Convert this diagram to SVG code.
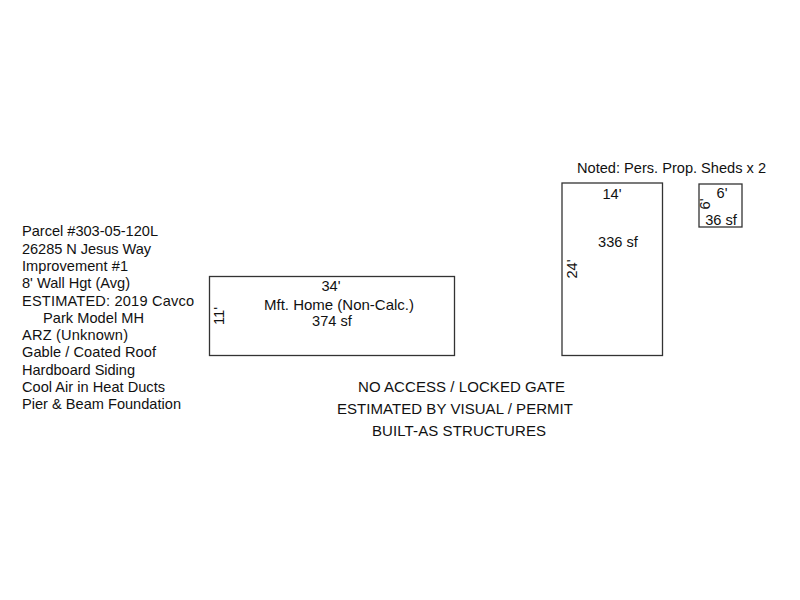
<svg xmlns="http://www.w3.org/2000/svg" width="800" height="600" viewBox="0 0 800 600">
<style>
text{font-family:"Liberation Sans",Arial,sans-serif;font-size:14.6px;fill:#111}
.m{text-anchor:middle}
.big{font-size:15px}
rect{fill:#fff;stroke:#333;stroke-width:1.3}
</style>
<rect x="0" y="0" width="800" height="600" style="stroke:none"/>
<g id="home"><rect x="209.500" y="276.500" width="245" height="79"/>
<text class="m" x="331" y="291">34'</text>
<text class="big" x="264" y="310" textLength="150">Mft. Home (Non-Calc.)</text>
<text class="m" x="332" y="326">374 sf</text>
<text class="m" transform="translate(224,316) rotate(-90)">11'</text></g>
<g id="shed1"><rect x="562" y="183" width="100.500" height="172.500"/>
<text class="m" x="612" y="199">14'</text>
<text class="m" x="618" y="247">336 sf</text>
<text class="m" transform="translate(577,269) rotate(-90)">24'</text></g>
<g id="shed2"><rect x="699" y="184" width="43" height="43"/>
<text class="m" x="722" y="198">6'</text>
<text class="m" x="721" y="225">36 sf</text>
<text class="m" transform="translate(710,204) rotate(-90)">6'</text></g>
<text x="577" y="173" textLength="189">Noted: Pers. Prop. Sheds x 2</text>
<g id="info">
<text x="22" y="236" textLength="136">Parcel #303-05-120L</text>
<text x="22" y="254" textLength="129">26285 N Jesus Way</text>
<text x="22" y="271" textLength="106">Improvement #1</text>
<text x="22" y="288" textLength="108">8' Wall Hgt (Avg)</text>
<text x="22" y="306" textLength="172">ESTIMATED: 2019 Cavco</text>
<text x="43" y="323" textLength="101">Park Model MH</text>
<text x="22" y="340" textLength="106">ARZ (Unknown)</text>
<text x="22" y="357" textLength="134">Gable / Coated Roof</text>
<text x="22" y="375" textLength="113">Hardboard Siding</text>
<text x="22" y="392" textLength="143">Cool Air in Heat Ducts</text>
<text x="22" y="409" textLength="159">Pier &amp; Beam Foundation</text>
</g>
<g id="notes">
<text class="big" x="358" y="392" textLength="207">NO ACCESS / LOCKED GATE</text>
<text class="big" x="337" y="414" textLength="236">ESTIMATED BY VISUAL / PERMIT</text>
<text class="big" x="372" y="436" textLength="174">BUILT-AS STRUCTURES</text>
</g>
</svg>
